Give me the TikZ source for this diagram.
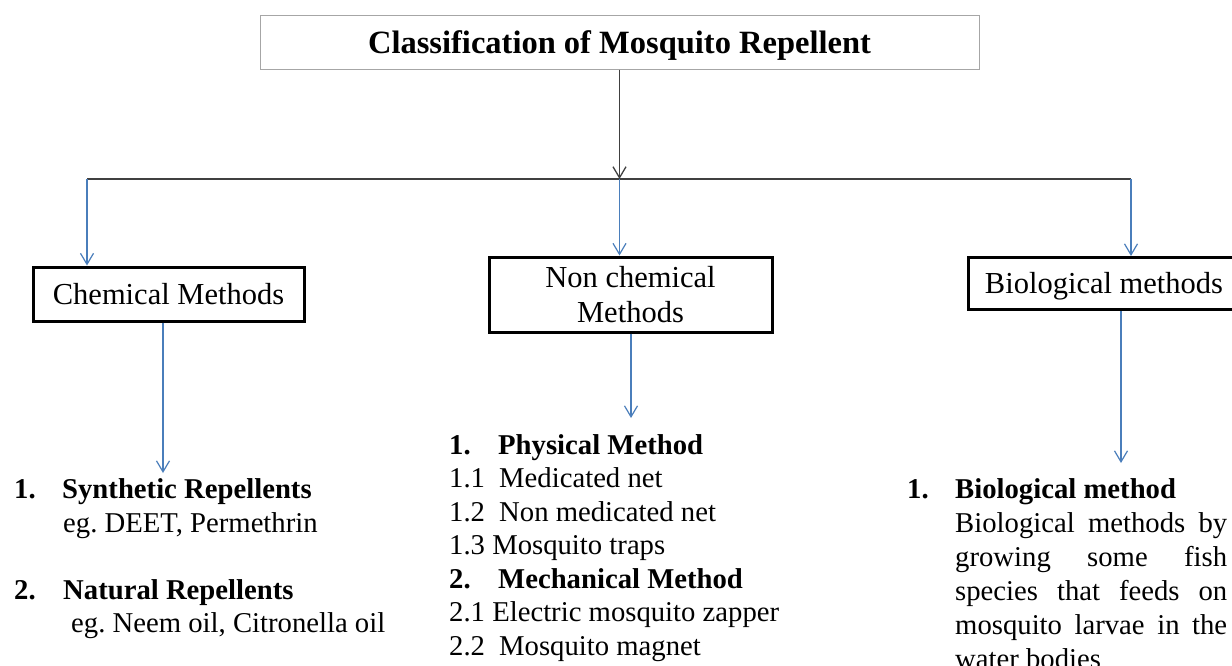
\documentclass[tikz,border=0pt]{standalone}
\usepackage{fontspec}
\setmainfont{Liberation Serif}
\usetikzlibrary{arrows.meta}
\definecolor{conblue}{HTML}{4A7EBB}
\definecolor{congrey}{HTML}{404040}
\definecolor{titlegrey}{HTML}{A6A6A6}
\frenchspacing
\begin{document}
\begin{tikzpicture}[x=1pt,y=-1pt,
  titlebox/.style={draw=titlegrey, line width=1pt, minimum width=719pt, minimum height=54pt, inner sep=0pt, font=\fontsize{32.5}{39}\selectfont\bfseries, text height=22pt, text depth=0pt},
  methodbox/.style={draw=black, line width=3pt, inner sep=0pt, font=\fontsize{30.5}{35}\selectfont, align=center},
  bodytext/.style={anchor=base west, inner sep=0pt, font=\fontsize{28.7}{34}\selectfont},
  bluearrow/.style={draw=conblue, line width=1.2pt, -{Straight Barb[length=11pt,width=13pt]}},
  greyline/.style={draw=congrey, line width=1.3pt},
  greyarrow/.style={greyline, -{Straight Barb[length=11pt,width=13pt]}}
]
\useasboundingbox (0,0) rectangle (1232,665);
\fill[white] (0,0) rectangle (1232,665);

% boxes
\node[titlebox] (title) at (619.5,42) {Classification of Mosquito Repellent};
\node[methodbox, minimum width=271pt, minimum height=54pt, text height=20.5pt, text depth=0pt] (chem) at (168.5,294) {Chemical Methods};
\node[methodbox, minimum width=283pt, minimum height=75pt] (nonchem) at (630.5,294.5) {Non chemical\\Methods};
\node[methodbox, minimum width=271pt, minimum height=52pt, text height=20.8pt, text depth=0pt] (bio) at (1104,283.5) {Biological methods};

% top connectors
\coordinate (hl) at (87,179);
\coordinate (hr) at (1131,179);
\coordinate (hm) at (619.5,179);
\draw[greyline] (hl) -- (hr);
\draw[greyarrow] (title.south) -- (hm);
\draw[bluearrow] (hl) -- (hl |- chem.north);
\draw[bluearrow] (hm) -- (hm |- nonchem.north);
\draw[bluearrow] (hr) -- (hr |- bio.north);

% down connectors
\coordinate (chemtip) at (163,473);
\coordinate (nctip) at (631,418);
\coordinate (biotip) at (1121,463);
\draw[bluearrow] (chem.south -| chemtip) -- (chemtip);
\draw[bluearrow] (nonchem.south -| nctip) -- (nctip);
\draw[bluearrow] (bio.south -| biotip) -- (biotip);

% left list
\node[bodytext] (c1) at (14,498) {\textbf{\makebox[48pt][l]{1.}Synthetic Repellents}};
\node[bodytext] (c1e) at (63,532) {eg. DEET, Permethrin};
\node[bodytext] (c2) at (14,599) {\textbf{\makebox[49pt][l]{2.}Natural Repellents}};
\node[bodytext] (c2e) at (71,632) {eg. Neem oil, Citronella oil};

% middle list
\node[bodytext] (m1) at (449,454) {\textbf{\makebox[49pt][l]{1.}Physical Method}};
\node[bodytext] (m11) at (449,487) {\makebox[50pt][l]{1.1}Medicated net};
\node[bodytext] (m12) at (449,521) {\makebox[50pt][l]{1.2}Non medicated net};
\node[bodytext] (m13) at (449,554) {1.3 Mosquito traps};
\node[bodytext] (m2) at (449,588) {\textbf{\makebox[49pt][l]{2.}Mechanical Method}};
\node[bodytext] (m21) at (449,621) {2.1 Electric mosquito zapper};
\node[bodytext] (m22) at (449,655) {\makebox[50pt][l]{2.2}Mosquito magnet};

% right list
\node[bodytext] (b1) at (907,498) {\textbf{\makebox[48pt][l]{1.}Biological method}};
\node[bodytext] (bp1) at (955,532) {\makebox[272pt][s]{Biological methods by}};
\node[bodytext] (bp2) at (955,566) {\makebox[272pt][s]{growing some fish}};
\node[bodytext] (bp3) at (955,600) {\makebox[272pt][s]{species that feeds on}};
\node[bodytext] (bp4) at (955,634) {\makebox[272pt][s]{mosquito larvae in the}};
\node[bodytext] (bp5) at (955,668) {water bodies};
\end{tikzpicture}
\end{document}
